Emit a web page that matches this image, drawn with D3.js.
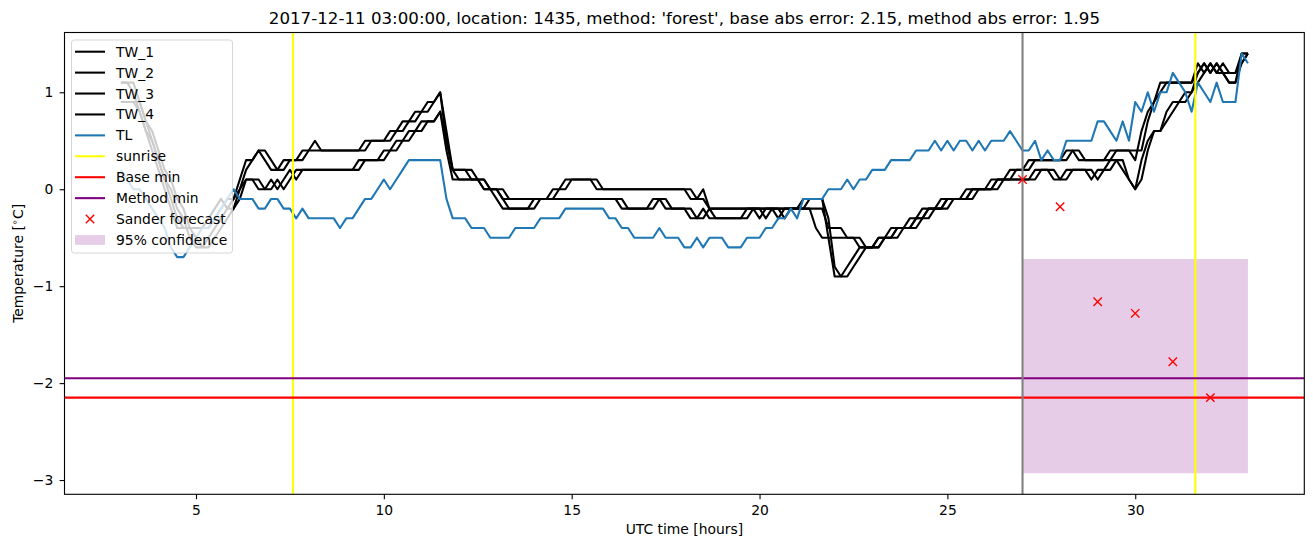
<!DOCTYPE html>
<html><head><meta charset="utf-8">
<script src="https://cdn.jsdelivr.net/npm/d3@7"></script>
<style>body{margin:0;background:#fff} svg{display:block} text{font-family:"DejaVu Sans",sans-serif;fill:#000}</style>
</head><body><svg id="chart" width="1313" height="547"></svg>
<script>
// ---- data (10-minute samples starting at hour 3) ----
const startHour = 3, stepHours = 1/6;
const TW_1 = [1.1,1.1,1.0,0.8,0.6,0.4, 0.2,0.0,-0.2,-0.4,-0.4,-0.4, -0.4,-0.4,-0.3,-0.2,-0.1,-0.2,
 -0.1,0.1,0.3,0.3,0.4,0.3, 0.2,0.2,0.3,0.3,0.3,0.4, 0.4,0.5,0.4,0.4,0.4,0.4, 0.4,0.4,0.4,0.5,0.5,0.5,
 0.5,0.6,0.6,0.7,0.7,0.8, 0.8,0.9,0.9,1.0,0.5,0.2, 0.2,0.2,0.1,0.1,0.0,0.0, 0.0,-0.1,-0.1,-0.1,-0.1,-0.1,
 -0.1,-0.1,-0.1,0.0,0.0,0.1, 0.1,0.1,0.1,0.1,0.0,0.0, 0.0,0.0,0.0,0.0,0.0,0.0, 0.0,0.0,0.0,0.0,0.0,0.0,
 0.0,-0.1,-0.1,0.0,-0.2,-0.2, -0.2,-0.2,-0.2,-0.2,-0.2,-0.2, -0.2,-0.2,-0.2,-0.2,-0.2,-0.2,
 -0.2,-0.1,-0.1,-0.1,-0.1,-0.5, -0.9,-0.9,-0.8,-0.7,-0.6,-0.6, -0.6,-0.5,-0.5,-0.4,-0.4,-0.4,
 -0.3,-0.3,-0.2,-0.2,-0.2,-0.1, -0.1,-0.1,-0.1,0.0,0.0,0.0, 0.0,0.1,0.1,0.1,0.2,0.2,
 0.2,0.3,0.3,0.3,0.3,0.3, 0.3,0.4,0.4,0.3,0.3,0.3, 0.3,0.3,0.4,0.4,0.4,0.4,
 0.3,0.6,0.8,0.9,1.1,1.1, 1.1,1.1,1.1,1.1,1.3,1.2, 1.3,1.2,1.2,1.1,1.1,1.4, 1.4];
const TW_2 = [1.1,1.1,1.1,0.9,0.7,0.5, 0.3,0.1,-0.1,-0.3,-0.4,-0.4, -0.4,-0.4,-0.4,-0.3,-0.2,-0.1,
 -0.1,0.0,0.2,0.3,0.4,0.4, 0.3,0.2,0.2,0.3,0.3,0.3, 0.4,0.4,0.4,0.4,0.4,0.4, 0.4,0.4,0.4,0.4,0.5,0.5,
 0.5,0.5,0.6,0.6,0.7,0.7, 0.8,0.8,0.9,1.0,0.6,0.2, 0.2,0.2,0.2,0.1,0.1,0.0, 0.0,0.0,-0.1,-0.1,-0.1,-0.1,
 -0.1,-0.1,-0.1,-0.1,0.0,0.0, 0.1,0.1,0.1,0.1,0.1,0.0, 0.0,0.0,0.0,0.0,0.0,0.0, 0.0,0.0,0.0,0.0,0.0,0.0,
 0.0,0.0,-0.1,-0.1,-0.2,-0.2, -0.2,-0.2,-0.2,-0.2,-0.2,-0.2, -0.2,-0.2,-0.2,-0.2,-0.2,-0.2,
 -0.2,-0.2,-0.1,-0.1,-0.1,-0.3, -0.8,-0.9,-0.9,-0.8,-0.7,-0.6, -0.6,-0.6,-0.5,-0.5,-0.4,-0.4,
 -0.4,-0.3,-0.3,-0.2,-0.2,-0.2, -0.1,-0.1,-0.1,-0.1,0.0,0.0, 0.0,0.0,0.1,0.1,0.1,0.2,
 0.2,0.2,0.3,0.3,0.3,0.3, 0.3,0.3,0.4,0.4,0.3,0.3, 0.3,0.3,0.3,0.4,0.4,0.4,
 0.4,0.4,0.7,0.9,1.0,1.1, 1.1,1.1,1.1,1.1,1.2,1.3, 1.2,1.3,1.2,1.1,1.1,1.3, 1.4];
const TW_3 = [0.9,0.9,0.9,0.8,0.6,0.5, 0.3,0.1,0.0,-0.2,-0.3,-0.5, -0.6,-0.6,-0.5,-0.4,-0.3,-0.2,
 -0.2,0.0,0.1,0.1,0.0,0.0, 0.1,0.0,0.1,0.2,0.1,0.2, 0.2,0.2,0.2,0.2,0.2,0.2, 0.2,0.2,0.3,0.3,0.3,0.3,
 0.4,0.4,0.5,0.5,0.6,0.6, 0.7,0.7,0.7,0.8,0.4,0.1, 0.1,0.1,0.1,0.1,0.0,0.0, -0.1,-0.2,-0.2,-0.2,-0.2,-0.2,
 -0.1,-0.1,-0.1,-0.1,-0.1,-0.1, -0.1,-0.1,-0.1,-0.1,-0.1,-0.1, -0.1,-0.1,-0.2,-0.2,-0.2,-0.2,
 -0.2,-0.1,-0.1,-0.2,-0.2,-0.2, -0.2,-0.3,-0.3,-0.2,-0.3,-0.3, -0.3,-0.3,-0.3,-0.3,-0.2,-0.2,
 -0.3,-0.2,-0.2,-0.3,-0.2,-0.2, -0.2,-0.2,-0.2,-0.4,-0.5,-0.5, -0.5,-0.5,-0.5,-0.5,-0.6,-0.6,
 -0.6,-0.5,-0.5,-0.5,-0.4,-0.4, -0.4,-0.3,-0.3,-0.2,-0.2,-0.2, -0.1,-0.1,-0.1,-0.1,0.0,0.0,
 0.0,0.0,0.1,0.1,0.1,0.1, 0.1,0.1,0.2,0.2,0.2,0.1, 0.1,0.2,0.2,0.2,0.2,0.1, 0.2,0.2,0.3,0.3,0.2,0.1,
 0.0,0.3,0.5,0.6,0.6,0.8, 0.9,0.9,1.0,1.0,1.2,1.3, 1.2,1.3,1.2,1.2,1.2,1.4, 1.4];
const TW_4 = [0.9,0.9,0.9,0.9,0.7,0.6, 0.4,0.2,0.1,-0.1,-0.2,-0.4, -0.5,-0.6,-0.6,-0.5,-0.4,-0.3,
 -0.2,-0.1,0.1,0.1,0.1,0.0, 0.0,0.1,0.0,0.1,0.2,0.2, 0.2,0.2,0.2,0.2,0.2,0.2, 0.2,0.2,0.2,0.3,0.3,0.3,
 0.3,0.4,0.4,0.5,0.5,0.6, 0.6,0.7,0.7,0.8,0.5,0.2, 0.1,0.1,0.1,0.1,0.1,0.0, 0.0,-0.1,-0.2,-0.2,-0.2,-0.2,
 -0.2,-0.1,-0.1,-0.1,-0.1,-0.1, -0.1,-0.1,-0.1,-0.1,-0.1,-0.1, -0.1,-0.1,-0.1,-0.2,-0.2,-0.2,
 -0.2,-0.2,-0.1,-0.1,-0.2,-0.2, -0.2,-0.2,-0.3,-0.3,-0.2,-0.3, -0.3,-0.3,-0.3,-0.3,-0.3,-0.2,
 -0.2,-0.3,-0.2,-0.2,-0.3,-0.2, -0.2,-0.2,-0.2,-0.2,-0.2,-0.4, -0.4,-0.4,-0.5,-0.5,-0.5,-0.6,
 -0.6,-0.6,-0.5,-0.5,-0.5,-0.4, -0.4,-0.4,-0.3,-0.3,-0.2,-0.2, -0.2,-0.1,-0.1,-0.1,-0.1,0.0,
 0.0,0.0,0.0,0.1,0.1,0.1, 0.1,0.1,0.1,0.2,0.2,0.2, 0.1,0.1,0.2,0.2,0.2,0.2, 0.1,0.2,0.2,0.3,0.3,0.1,
 0.0,0.1,0.4,0.6,0.6,0.7, 0.8,0.9,0.9,1.0,1.1,1.2, 1.3,1.2,1.3,1.2,1.2,1.3, 1.4];
const TL = [0.2,0.1,0.0,0.0,-0.1,-0.2, -0.3,-0.4,-0.6,-0.7,-0.7,-0.6, -0.5,-0.4,-0.4,-0.3,-0.2,-0.1,
 0.0,-0.1,-0.1,-0.1,-0.2,-0.2, -0.1,-0.1,-0.2,-0.2,-0.3,-0.2, -0.3,-0.3,-0.3,-0.3,-0.3,-0.4,
 -0.3,-0.3,-0.2,-0.1,-0.1,0.0, 0.1,0.0,0.1,0.2,0.3,0.3, 0.3,0.3,0.3,0.3,-0.1,-0.3,
 -0.3,-0.3,-0.4,-0.4,-0.4,-0.5, -0.5,-0.5,-0.5,-0.4,-0.4,-0.4, -0.4,-0.3,-0.3,-0.3,-0.3,-0.2,
 -0.2,-0.2,-0.2,-0.2,-0.2,-0.2, -0.3,-0.3,-0.4,-0.4,-0.5,-0.5, -0.5,-0.5,-0.4,-0.5,-0.5,-0.5,
 -0.6,-0.6,-0.5,-0.6,-0.5,-0.5, -0.5,-0.6,-0.6,-0.6,-0.5,-0.5, -0.5,-0.4,-0.4,-0.3,-0.3,-0.2,
 -0.3,-0.1,-0.1,-0.1,-0.1,0.0, 0.0,0.0,0.1,0.0,0.1,0.1, 0.2,0.2,0.2,0.3,0.3,0.3,
 0.3,0.4,0.4,0.4,0.5,0.4, 0.5,0.4,0.5,0.5,0.4,0.5, 0.4,0.5,0.5,0.5,0.6,0.5,
 0.4,0.4,0.5,0.3,0.4,0.3, 0.3,0.5,0.5,0.5,0.5,0.5, 0.7,0.7,0.6,0.5,0.7,0.5,
 0.9,0.8,1.0,0.8,1.0,1.0, 1.2,1.1,1.0,0.8,1.1,1.0, 0.9,1.1,0.9,0.9,0.9,1.4, 1.3];
const sunriseHours = [7.58, 31.6];
const forecastStartHour = 27;
const sanderHours = [27, 28, 29, 30, 31, 32];
const sanderValues = [0.1, -0.18, -1.16, -1.28, -1.78, -2.15];
const confidenceHours = [27, 33];
const confidenceLower = [-2.93, -2.93];
const confidenceUpper = [-0.72, -0.72];
const baseMin = -2.15;
const methodMin = -1.95;
const xTicks = [5, 10, 15, 20, 25, 30];
const yTicks = [-3, -2, -1, 0, 1];
const xDomain = [1.5, 34.5];
const yDomain = [-3.147, 1.617];
const titleText = "2017-12-11 03:00:00, location: 1435, method: 'forest', base abs error: 2.15, method abs error: 1.95";

// ---- chart ----
const svg = d3.select("#chart");
const L = 64.5, R = 1304.3, T = 32.5, B = 494.3;
const x = d3.scaleLinear().domain(xDomain).range([L, R]);
const y = d3.scaleLinear().domain(yDomain).range([B, T]);
const tAt = i => startHour + i * stepHours;
const LW = 2.08;

svg.append("defs").append("clipPath").attr("id", "clip")
  .append("rect").attr("x", L).attr("y", T).attr("width", R - L).attr("height", B - T);
const plot = svg.append("g").attr("clip-path", "url(#clip)");

// confidence band
const band = confidenceHours.map((h, i) => ({h, lo: confidenceLower[i], hi: confidenceUpper[i]}));
plot.append("path").datum(band)
  .attr("d", d3.area().x(d => x(d.h)).y0(d => y(d.lo)).y1(d => y(d.hi)))
  .attr("fill", "#800080").attr("fill-opacity", 0.2);

const line = d3.line().x((d, i) => x(tAt(i))).y(d => y(d));
[TW_1, TW_2, TW_3, TW_4].forEach(s => {
  plot.append("path").datum(s).attr("d", line).attr("fill", "none")
    .attr("stroke", "#000").attr("stroke-width", LW).attr("stroke-linejoin", "round");
});
plot.append("path").datum(TL).attr("d", line).attr("fill", "none")
  .attr("stroke", "#1f77b4").attr("stroke-width", LW).attr("stroke-linejoin", "round");

sunriseHours.forEach(h => {
  plot.append("line").attr("x1", x(h)).attr("x2", x(h)).attr("y1", T).attr("y2", B)
    .attr("stroke", "#ffff00").attr("stroke-width", LW);
});
plot.append("line").attr("x1", L).attr("x2", R).attr("y1", y(baseMin)).attr("y2", y(baseMin))
  .attr("stroke", "#ff0000").attr("stroke-width", LW);
plot.append("line").attr("x1", L).attr("x2", R).attr("y1", y(methodMin)).attr("y2", y(methodMin))
  .attr("stroke", "#800080").attr("stroke-width", LW);
plot.append("line").attr("x1", x(forecastStartHour)).attr("x2", x(forecastStartHour)).attr("y1", T).attr("y2", B)
  .attr("stroke", "#808080").attr("stroke-width", LW);

const xMark = (g, cx, cy, r) => g.append("path")
  .attr("d", `M${cx - r},${cy - r}L${cx + r},${cy + r}M${cx - r},${cy + r}L${cx + r},${cy - r}`)
  .attr("stroke", "#ff0000").attr("stroke-width", 1.4).attr("fill", "none");
sanderHours.forEach((h, i) => xMark(plot, x(h), y(sanderValues[i]), 4.2));

// axes
const fs = 13.89;
const xAxis = svg.append("g").attr("transform", `translate(0,${B})`)
  .call(d3.axisBottom(x).tickValues(xTicks).tickSize(4.86).tickPadding(5.6).tickFormat(d3.format("d")));
const yAxis = svg.append("g").attr("transform", `translate(${L},0)`)
  .call(d3.axisLeft(y).tickValues(yTicks).tickSize(4.86).tickPadding(6.4).tickFormat(d3.format("d")));
[xAxis, yAxis].forEach(a => {
  a.select(".domain").remove();
  a.selectAll("line").attr("stroke", "#000").attr("stroke-width", 1.11);
  a.selectAll("text").attr("font-size", fs).attr("font-family", "DejaVu Sans").attr("fill", "#000");
});
svg.append("rect").attr("x", L).attr("y", T).attr("width", R - L).attr("height", B - T)
  .attr("fill", "none").attr("stroke", "#000").attr("stroke-width", 1.11);

svg.append("text").attr("x", (L + R) / 2).attr("y", 23.5).attr("text-anchor", "middle")
  .attr("font-size", 16.67).text(titleText);
svg.append("text").attr("x", (L + R) / 2).attr("y", 534).attr("text-anchor", "middle")
  .attr("font-size", fs).text("UTC time [hours]");
const yl = svg.append("text").attr("transform", `translate(22.5,${(T + B) / 2}) rotate(-90)`)
  .attr("text-anchor", "middle").attr("font-size", fs);
yl.append("tspan").text("Temperature [");
yl.append("tspan").attr("font-size", 9.7).attr("dy", -5).text("∘");
yl.append("tspan").attr("dy", 5).text("C]");

// legend
const legendItems = [
  {label: "TW_1", type: "line", color: "#000"},
  {label: "TW_2", type: "line", color: "#000"},
  {label: "TW_3", type: "line", color: "#000"},
  {label: "TW_4", type: "line", color: "#000"},
  {label: "TL", type: "line", color: "#1f77b4"},
  {label: "sunrise", type: "line", color: "#ffff00"},
  {label: "Base min", type: "line", color: "#ff0000"},
  {label: "Method min", type: "line", color: "#800080"},
  {label: "Sander forecast", type: "marker", color: "#ff0000"},
  {label: "95% confidence", type: "patch", color: "#800080"}
];
const lg = svg.append("g");
lg.append("rect").attr("x", 71.5).attr("y", 40).attr("width", 161).attr("height", 213).attr("rx", 2.8)
  .attr("fill", "#fff").attr("fill-opacity", 0.8).attr("stroke", "#cccccc").attr("stroke-opacity", 0.8).attr("stroke-width", 1);
legendItems.forEach((it, i) => {
  const cy = 51.7 + i * 20.92;
  if (it.type === "line") {
    lg.append("line").attr("x1", 75).attr("x2", 105).attr("y1", cy).attr("y2", cy)
      .attr("stroke", it.color).attr("stroke-width", LW);
  } else if (it.type === "marker") {
    xMark(lg, 90, cy, 4.2);
  } else {
    lg.append("rect").attr("x", 75).attr("y", cy - 4.9).attr("width", 30).attr("height", 9.7)
      .attr("fill", it.color).attr("fill-opacity", 0.2);
  }
  lg.append("text").attr("x", 116).attr("y", cy).attr("dy", "0.36em").attr("font-size", fs).text(it.label);
});
</script></body></html>
